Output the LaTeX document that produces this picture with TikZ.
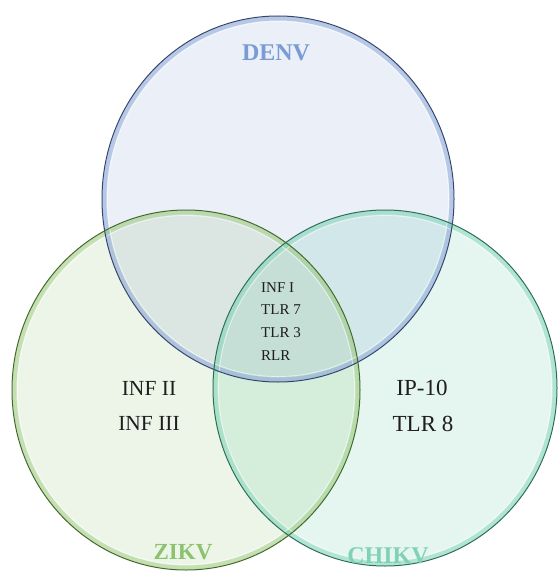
\documentclass[tikz,border=0pt]{standalone}
\usepackage{fontspec}
\setmainfont{Liberation Serif}
\usetikzlibrary{shapes.geometric}
\definecolor{denvc}{HTML}{4472C4}
\definecolor{zikvc}{HTML}{70AD47}
\definecolor{chikc}{HTML}{2AB485}
\definecolor{denvdark}{HTML}{34456E}
\definecolor{zikvdark}{HTML}{43692A}
\definecolor{chikdark}{HTML}{2A6E58}
\definecolor{denvband}{HTML}{86A2D8}
\definecolor{zikvband}{HTML}{9DCB7E}
\definecolor{chikband}{HTML}{7ED6B8}
\definecolor{denvtxt}{HTML}{7A9BD5}
\definecolor{zikvtxt}{HTML}{8DC26F}
\definecolor{chiktxt}{HTML}{80D2B7}
\definecolor{bodytxt}{HTML}{1E1E1E}
\begin{document}
\begin{tikzpicture}[x=1pt,y=-1pt,
  setcircle/.style={ellipse, inner sep=0pt, fill opacity=0.12},
  small/.style={font=\fontsize{15}{18}\selectfont, text=bodytxt, inner sep=0pt, anchor=base west},
  mid/.style={font=\fontsize{21.5}{25}\selectfont, text=bodytxt, inner sep=0pt, anchor=base},
  big/.style={font=\fontsize{23}{27}\selectfont, text=bodytxt, inner sep=0pt, anchor=base},
  setlabel/.style={font=\fontsize{24}{28}\selectfont\bfseries, inner sep=0pt, anchor=base}]
\useasboundingbox (0,0) rectangle (559,575);
\fill[white] (0,0) rectangle (559,575);
% set circles
\node[setcircle, fill=denvc, fill opacity=0.11, minimum width=352pt, minimum height=366pt] (denv) at (278,199) {};
\node[setcircle, fill=zikvc, minimum width=348pt, minimum height=360pt] (zikv) at (186,390) {};
\node[setcircle, fill=chikc, minimum width=344pt, minimum height=356pt] (chik) at (385,388) {};
% glossy inner bands
\draw[denvband, line width=4pt, opacity=0.5] (denv.center) ellipse [x radius=173.5, y radius=180.5];
\draw[zikvband, line width=4pt, opacity=0.5] (zikv.center) ellipse [x radius=171.5, y radius=177.5];
\draw[chikband, line width=4pt, opacity=0.5] (chik.center) ellipse [x radius=169.5, y radius=175.5];
\draw[white, line width=0.8pt, opacity=0.55] (denv.center) ellipse [x radius=170.5, y radius=177.5];
\draw[white, line width=0.8pt, opacity=0.55] (zikv.center) ellipse [x radius=168.5, y radius=174.5];
\draw[white, line width=0.8pt, opacity=0.55] (chik.center) ellipse [x radius=166.5, y radius=172.5];
% outlines
\draw[denvdark, line width=1pt] (denv.center) ellipse [x radius=176, y radius=183];
\draw[zikvdark, line width=1pt] (zikv.center) ellipse [x radius=174, y radius=180];
\draw[chikdark, line width=1pt] (chik.center) ellipse [x radius=172, y radius=178];
% set labels
\node[setlabel, text=denvtxt] (ldenv) at (276,61) {DENV};
\node[setlabel, text=zikvtxt, font=\fontsize{23}{27}\selectfont\bfseries] (lzikv) at (183,559) {ZIKV};
\node[setlabel, text=chiktxt] (lchik) at (388,563) {CHIKV};
% centre
\node[small] (c1) at (261,292) {INF I};
\node[small] (c2) at (261,314) {TLR 7};
\node[small] (c3) at (261,337) {TLR 3};
\node[small] (c4) at (261,360) {RLR};
% ZIKV only
\node[mid] (z1) at (149,395) {INF II};
\node[mid] (z2) at (149,430) {INF III};
% CHIKV only
\node[big] (k1) at (422,395) {IP-10};
\node[big] (k2) at (423,431) {TLR 8};
\end{tikzpicture}
\end{document}
